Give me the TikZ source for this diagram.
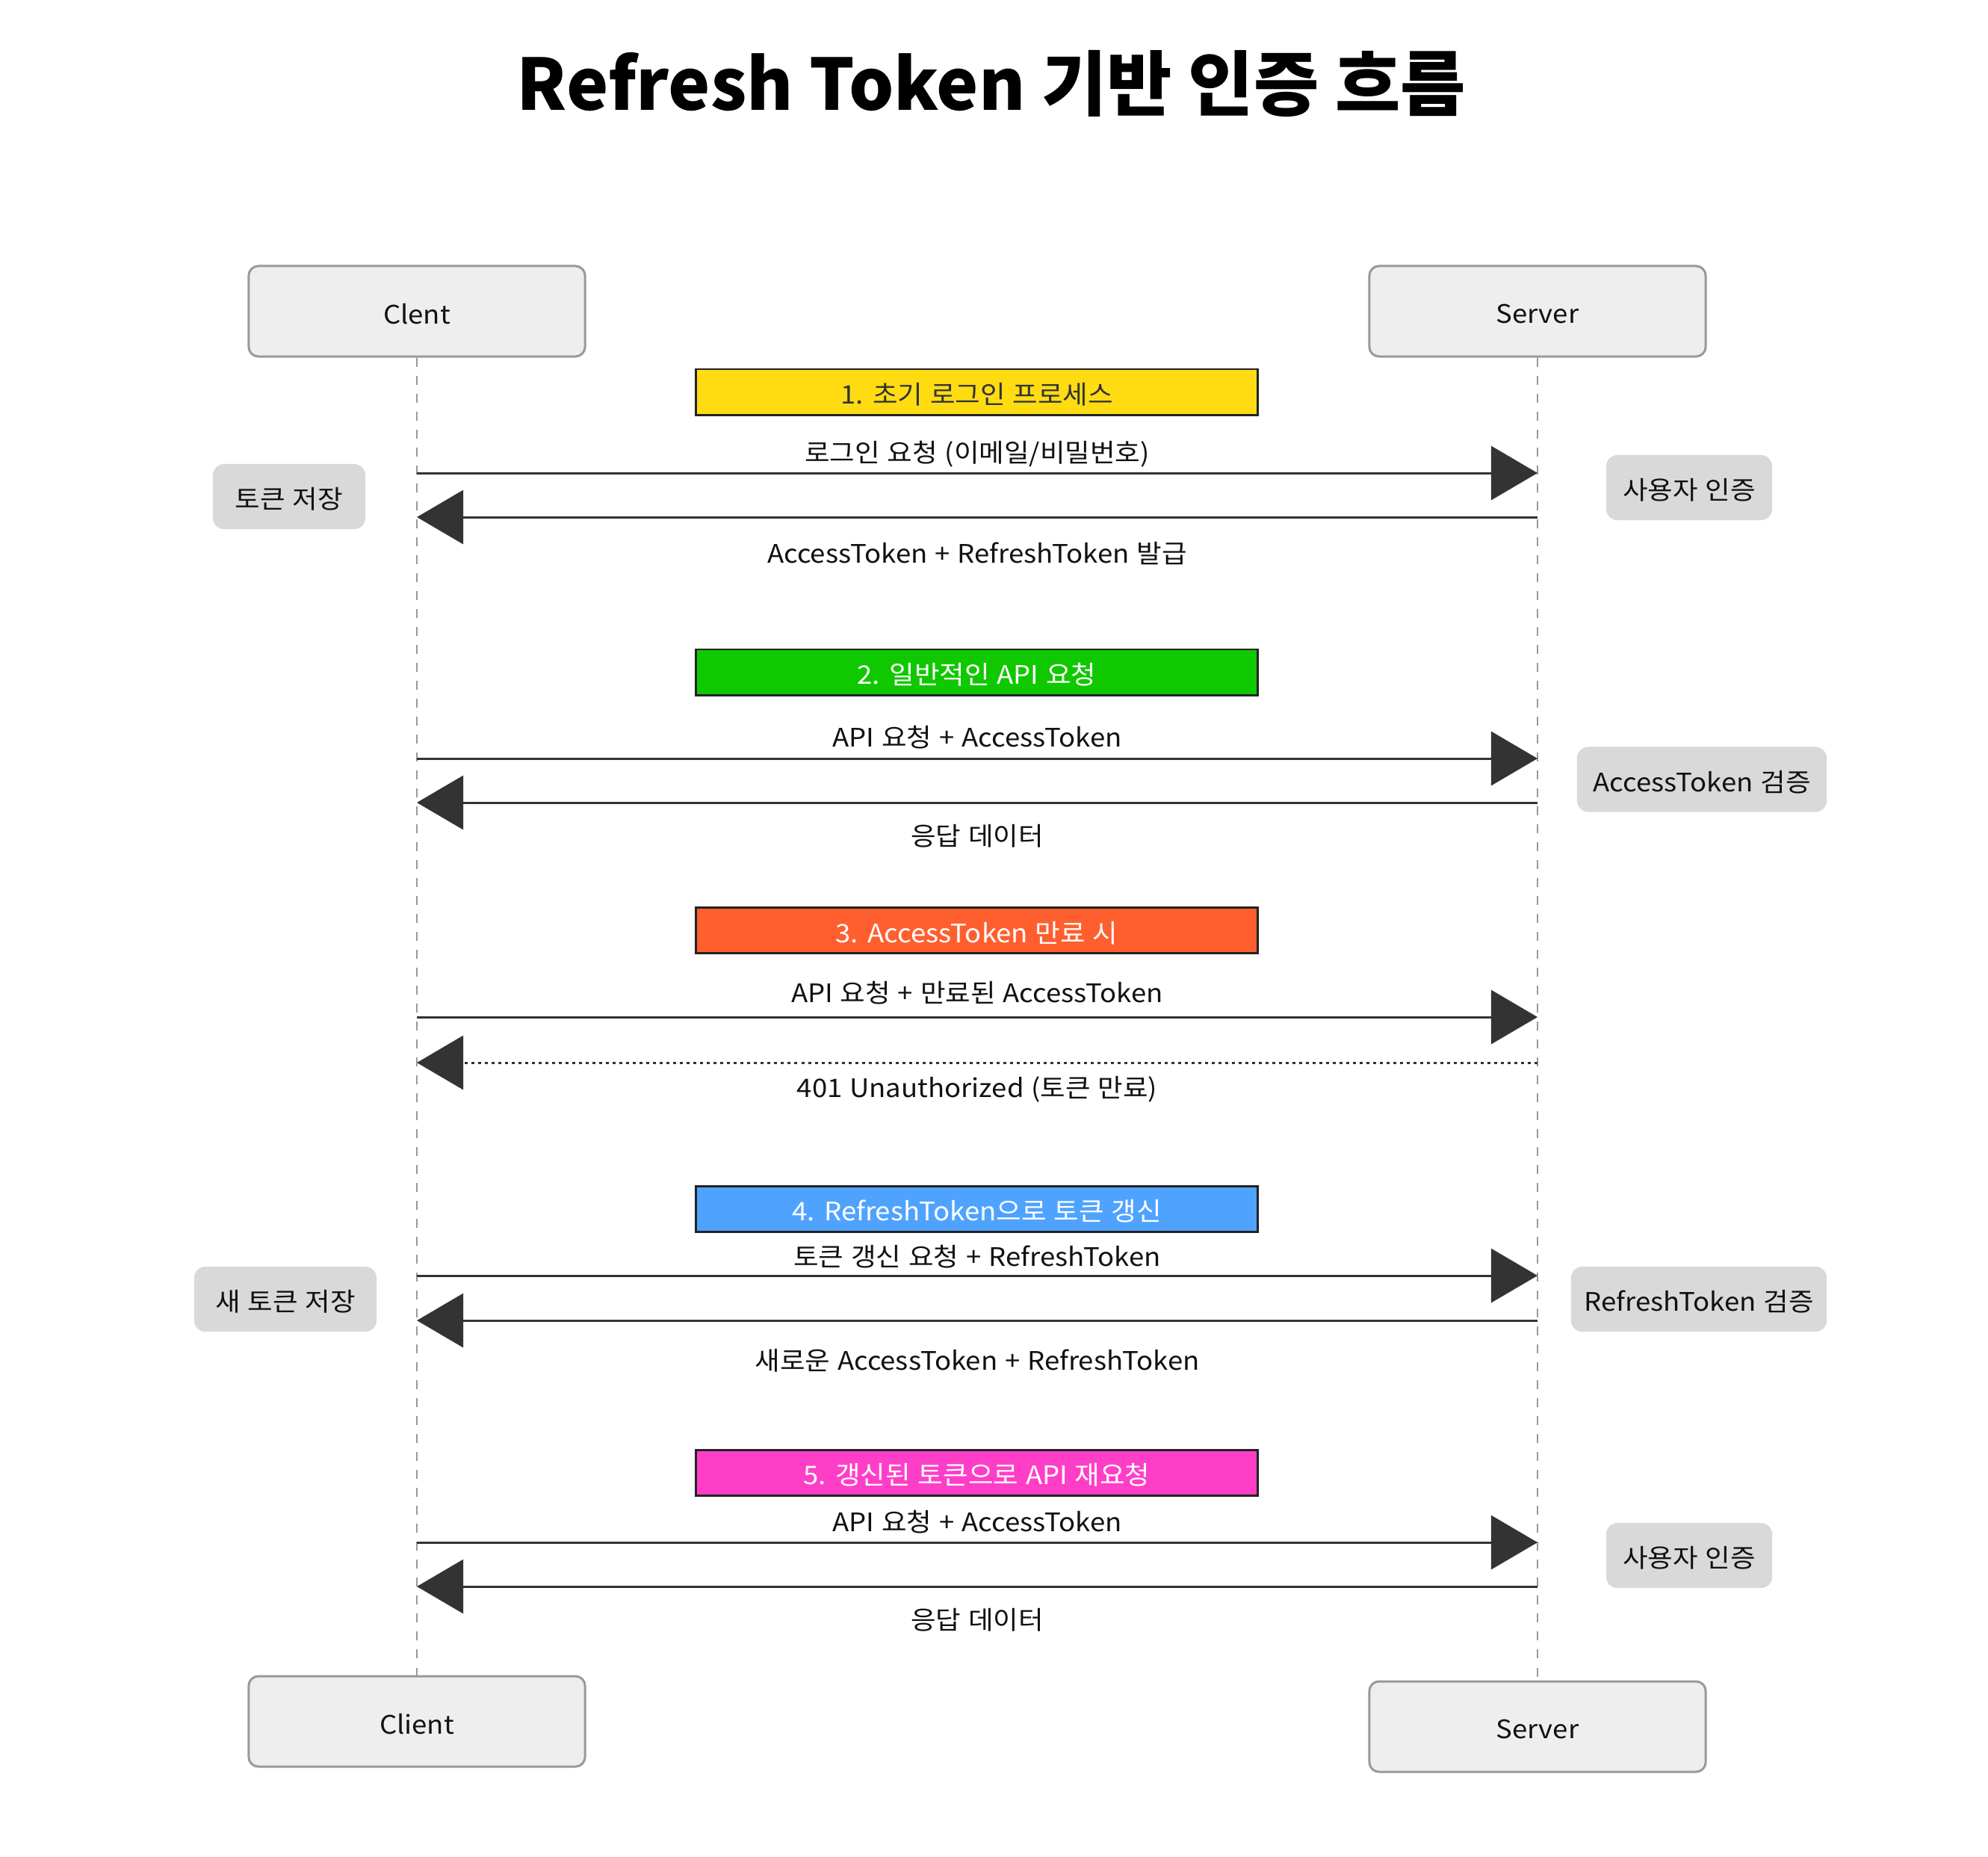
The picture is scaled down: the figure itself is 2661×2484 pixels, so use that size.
\documentclass[tikz,border=0pt]{standalone}
\usepackage{fontspec}
\setmainfont{Noto Sans CJK KR}[FakeStretch=1.07, WordSpace=1.2]
\newfontfamily\titlefont{Noto Sans CJK KR}
\usetikzlibrary{arrows.meta}
\newsavebox\dropbox
\definecolor{boxfill}{HTML}{EEEEEE}
\definecolor{boxline}{HTML}{999999}
\definecolor{notefill}{HTML}{D9D9D9}
\definecolor{arrowc}{HTML}{333333}
\definecolor{phaseline}{HTML}{222222}
\definecolor{pyellow}{HTML}{FFDC12}
\definecolor{pgreen}{HTML}{10C800}
\definecolor{porange}{HTML}{FF5F2F}
\definecolor{pblue}{HTML}{4FA3FF}
\definecolor{ppink}{HTML}{FF3EC8}
\definecolor{txt}{HTML}{111111}
\tikzset{
  bodytext/.style={font=\fontsize{9.7pt}{11pt}\selectfont, text=txt},
  droptext/.style={execute at begin node={\begin{lrbox}{\dropbox}},
    execute at end node={\end{lrbox}\raisebox{-1pt}[\ht\dropbox][\dp\dropbox]{\usebox\dropbox}}},
  actor/.style={bodytext, droptext, draw=boxline, fill=boxfill, line width=0.85pt, rounded corners=0.13cm,
    minimum width=4.5cm, minimum height=1.21cm, inner sep=0pt},
  note/.style={bodytext, droptext, fill=notefill, rounded corners=0.15cm, minimum height=0.87cm, inner sep=0pt},
  phase/.style={font=\fontsize{9.7pt}{11pt}\selectfont, droptext, draw=phaseline, line width=0.85pt,
    minimum width=7.51cm, minimum height=0.61cm, inner sep=0pt},
  lifeline/.style={draw=boxline, line width=0.55pt, dash pattern=on 0.12cm off 0.12cm},
  msg/.style={draw=arrowc, line width=0.85pt, -{Triangle[length=0.62cm,width=0.72cm]}},
  reply/.style={msg, dash pattern=on 0.04cm off 0.05cm},
  lbl/.style={bodytext, inner sep=0pt, yshift=-1pt},
}
\begin{document}
\begin{tikzpicture}[x=0.01cm, y=-0.01cm]
\useasboundingbox[fill=white] (0,0) rectangle (2661,2484);

% title
\node[font=\fontsize{27pt}{30pt}\titlefont\bfseries, text=black] (title) at (1327,112) {Refresh Token 기반 인증 흐름};

% actors
\node[actor] (ctop) at (558,416.5) {Clent};
\node[actor] (stop) at (2058,416.5) {Server};
\node[actor] (cbot) at (558,2303.5) {Client};
\node[actor] (sbot) at (2058,2310.5) {Server};

% lifelines
\draw[lifeline] (ctop.south) -- (cbot.north);
\draw[lifeline] (stop.south) -- (sbot.north);

% phases
\node[phase, fill=pyellow, text=arrowc] (p1) at (1307.5,524.5) {1. 초기 로그인 프로세스};
\node[phase, fill=pgreen, text=white] (p2) at (1307.5,899.5) {2. 일반적인 API 요청};
\node[phase, fill=porange, text=white] (p3) at (1307.5,1245) {3. AccessToken 만료 시};
\node[phase, fill=pblue, text=white] (p4) at (1307.5,1617.5) {4. RefreshToken으로 토큰 갱신};
\node[phase, fill=ppink, text=white] (p5) at (1307.5,1970.5) {5. 갱신된 토큰으로 API 재요청};

% lifeline points
\foreach \n/\y in {1/633,2/692,3/1015,4/1074,5/1361,6/1422,7/1707,8/1767,9/2064,10/2123}{
  \coordinate (c\n) at (558,\y);
  \coordinate (s\n) at (2058,\y);
}

% messages
\draw[msg] (c1) -- (s1);
\draw[msg] (s2) -- (c2);
\draw[msg] (c3) -- (s3);
\draw[msg] (s4) -- (c4);
\draw[msg] (c5) -- (s5);
\draw[reply] (s6) -- (c6);
\draw[msg] (c7) -- (s7);
\draw[msg] (s8) -- (c8);
\draw[msg] (c9) -- (s9);
\draw[msg] (s10) -- (c10);

% labels
\node[lbl] (l1) at (1308,604) {로그인 요청 (이메일/비밀번호)};
\node[lbl] (l2) at (1308,737) {AccessToken + RefreshToken 발급};
\node[lbl] (l3) at (1308,983) {API 요청 + AccessToken};
\node[lbl] (l4) at (1308,1115) {응답 데이터};
\node[lbl] (l5) at (1308,1325) {API 요청 + 만료된 AccessToken};
\node[lbl] (l6) at (1308,1454) {401 Unauthorized (토큰 만료)};
\node[lbl] (l7) at (1308,1678) {토큰 갱신 요청 + RefreshToken};
\node[lbl] (l8) at (1308,1817) {새로운 AccessToken + RefreshToken};
\node[lbl] (l9) at (1308,2033) {API 요청 + AccessToken};
\node[lbl] (l10) at (1308,2164) {응답 데이터};

% notes
\node[note, minimum width=2.04cm] (n1) at (387,664.5) {토큰 저장};
\node[note, minimum width=2.22cm] (n2) at (2261,652.5) {사용자 인증};
\node[note, minimum width=3.34cm] (n3) at (2278,1043) {AccessToken 검증};
\node[note, minimum width=2.44cm] (n4) at (382,1738.5) {새 토큰 저장};
\node[note, minimum width=3.42cm] (n5) at (2274,1738.5) {RefreshToken 검증};
\node[note, minimum width=2.22cm] (n6) at (2261,2081.5) {사용자 인증};
\end{tikzpicture}
\end{document}
